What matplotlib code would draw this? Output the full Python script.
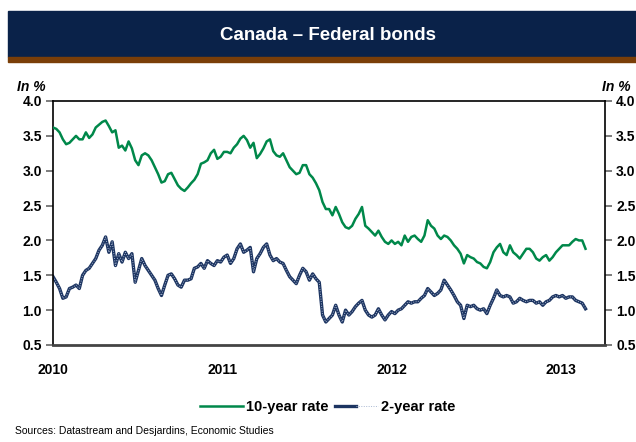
import matplotlib.pyplot as plt
import matplotlib.dates as mdates
import matplotlib.patches as mpatches
import pandas as pd
from matplotlib.legend_handler import HandlerTuple

plt.rcParams["font.family"] = ["Liberation Sans", "DejaVu Sans"]

# weekly readings, Jan 2010 -> Feb 2013
ten_year = [
    3.62, 3.60, 3.55, 3.45, 3.38, 3.40, 3.45, 3.50, 3.45, 3.45,
    3.55, 3.47, 3.52, 3.62, 3.66, 3.70, 3.72, 3.64, 3.55, 3.58,
    3.33, 3.36, 3.29, 3.42, 3.32, 3.15, 3.08, 3.22, 3.25, 3.22,
    3.15, 3.05, 2.95, 2.83, 2.85, 2.95, 2.97, 2.88, 2.79, 2.74,
    2.71, 2.76, 2.82, 2.87, 2.95, 3.10, 3.12, 3.15, 3.25, 3.30,
    3.17, 3.20, 3.27, 3.27, 3.25, 3.33, 3.38, 3.46, 3.50, 3.44,
    3.33, 3.40, 3.18, 3.24, 3.32, 3.42, 3.45, 3.28, 3.22, 3.20,
    3.25, 3.15, 3.05, 3.00, 2.95, 2.97, 3.08, 3.08, 2.95, 2.90,
    2.82, 2.72, 2.55, 2.45, 2.45,
    2.36, 2.48, 2.38, 2.26, 2.19, 2.17, 2.21, 2.31, 2.38, 2.48,
    2.21, 2.17, 2.12, 2.07, 2.14, 2.05, 1.98, 1.95, 2.00, 1.95,
    1.98, 1.93, 2.07, 1.98, 2.05, 2.07, 2.02, 1.98, 2.07, 2.29,
    2.21, 2.17, 2.07, 2.02, 2.07, 2.05, 2.00, 1.93, 1.88, 1.81,
    1.67, 1.79, 1.76, 1.74, 1.69, 1.67, 1.62, 1.60, 1.69, 1.83,
    1.90, 1.95, 1.83, 1.79, 1.93, 1.83, 1.79, 1.74, 1.81, 1.88,
    1.88, 1.83, 1.74, 1.71, 1.76, 1.79, 1.71, 1.76, 1.83, 1.88,
    1.93, 1.93, 1.93, 1.98, 2.02, 2.00, 2.00, 1.88,
]

two_year = [
    1.48, 1.40, 1.31, 1.17, 1.19, 1.31, 1.33, 1.36, 1.31, 1.50,
    1.57, 1.60, 1.67, 1.74, 1.86, 1.93, 2.05, 1.83, 1.98, 1.64,
    1.81, 1.69, 1.83, 1.74, 1.81, 1.40, 1.57, 1.74, 1.64, 1.57,
    1.50, 1.43, 1.31, 1.21, 1.36, 1.50, 1.52, 1.45, 1.36, 1.33,
    1.43, 1.43, 1.45, 1.60, 1.62, 1.67, 1.60, 1.71, 1.67, 1.64,
    1.71, 1.69, 1.76, 1.79, 1.67, 1.74, 1.88, 1.95, 1.83, 1.86,
    1.90, 1.55, 1.74, 1.81, 1.90, 1.95, 1.79, 1.71, 1.74, 1.69,
    1.67, 1.57, 1.48, 1.43, 1.38, 1.50, 1.60, 1.55, 1.43, 1.52,
    1.45, 1.40, 0.93, 0.83, 0.88,
    0.93, 1.07, 0.93, 0.83, 1.00, 0.93, 0.98, 1.05, 1.10, 1.14,
    1.00, 0.93, 0.90, 0.93, 1.02, 0.93, 0.86, 0.93, 0.98, 0.95,
    1.00, 1.02, 1.07, 1.12, 1.10, 1.12, 1.12, 1.17, 1.21, 1.31,
    1.26, 1.21, 1.24, 1.29, 1.43, 1.36, 1.29, 1.21, 1.12, 1.07,
    0.88, 1.07, 1.05, 1.07, 1.02, 1.00, 1.02, 0.95, 1.07, 1.17,
    1.29, 1.21, 1.19, 1.21, 1.19, 1.10, 1.12, 1.17, 1.14, 1.12,
    1.14, 1.14, 1.10, 1.12, 1.07, 1.12, 1.14, 1.19, 1.21, 1.19,
    1.21, 1.17, 1.19, 1.19, 1.14, 1.12, 1.10, 1.02,
]

dates = pd.date_range("2010-01-01", "2013-02-22", periods=len(ten_year))
years = ["2010", "2011", "2012", "2013"]
yticks = [0.5, 1.0, 1.5, 2.0, 2.5, 3.0, 3.5, 4.0]

green = "#00884A"
navy = "#1C3461"
dots = "#A9B8D2"

fig = plt.figure(figsize=(6.36, 4.42), dpi=100)

# header banner
fig.patches.append(mpatches.Rectangle((8 / 636, 1 - 57 / 442), 1, 46 / 442,
                                      transform=fig.transFigure, color="#0A2249", zorder=0))
fig.patches.append(mpatches.Rectangle((8 / 636, 1 - 62 / 442), 1, 5 / 442,
                                      transform=fig.transFigure, color="#7A3E08", zorder=0))
fig.text(0.515, 1 - 35 / 442, "Canada \u2013 Federal bonds", color="white",
         fontsize=13.5, fontweight="bold", ha="center", va="center")

ax = fig.add_axes([53 / 636, 1 - 345 / 442, 552 / 636, 244 / 442])
l10, = ax.plot(dates, ten_year, color=green, lw=1.8, zorder=3)
l2a, = ax.plot(dates, two_year, color=navy, lw=2.4, zorder=2)
l2b, = ax.plot(dates, two_year, color=dots, lw=0.7, ls=(0, (1, 1.5)), zorder=2.5)

ax.set_ylim(0.5, 4.0)
ax.set_yticks(yticks)
ax.yaxis.set_major_formatter(plt.FuncFormatter(lambda v, p: "{:.1f}".format(v)))
ax.set_xlim(pd.Timestamp("2010-01-01"), pd.Timestamp("2013-04-05"))
ax.set_xticks([pd.Timestamp(y + "-01-01") for y in years])
ax.xaxis.set_major_formatter(mdates.DateFormatter("%Y"))

ax.tick_params(axis="y", which="both", direction="out", length=5, width=1.2,
               color="#666666", labelsize=10, left=True, right=True,
               labelleft=True, labelright=True, pad=3)
ax.tick_params(axis="x", length=0, labelsize=10, pad=13)
for lab in ax.get_xticklabels() + ax.get_yticklabels():
    lab.set_fontweight("bold")
for lab in ax.yaxis.get_ticklabels(which="major"):
    lab.set_fontweight("bold")
for t in ax.yaxis.get_major_ticks():
    t.label2.set_fontweight("bold")

for s in ["left", "right", "top"]:
    ax.spines[s].set_linewidth(1.2)
ax.spines["bottom"].set_linewidth(2)
ax.spines["bottom"].set_color("#444444")

fig.text(17 / 636, 1 - 87 / 442, "In %", fontsize=10, fontweight="bold",
         fontstyle="italic", ha="left", va="center")
fig.text(631 / 636, 1 - 87 / 442, "In %", fontsize=10, fontweight="bold",
         fontstyle="italic", ha="right", va="center")

leg = fig.legend([l10, (l2a, l2b)], ["10-year rate", "2-year rate"],
                 handler_map={tuple: HandlerTuple(ndivide=None, pad=0)},
                 loc="center", bbox_to_anchor=(0.515, 1 - 407 / 442), ncol=2,
                 frameon=False, fontsize=10.5, handlelength=3.0,
                 handletextpad=0.2, columnspacing=0.4)
for t in leg.get_texts():
    t.set_fontweight("bold")

fig.text(15 / 636, 1 - 431 / 442, "Sources: Datastream and Desjardins, Economic Studies",
         fontsize=7.5, ha="left", va="center")

fig.savefig("out.png", dpi=100)
